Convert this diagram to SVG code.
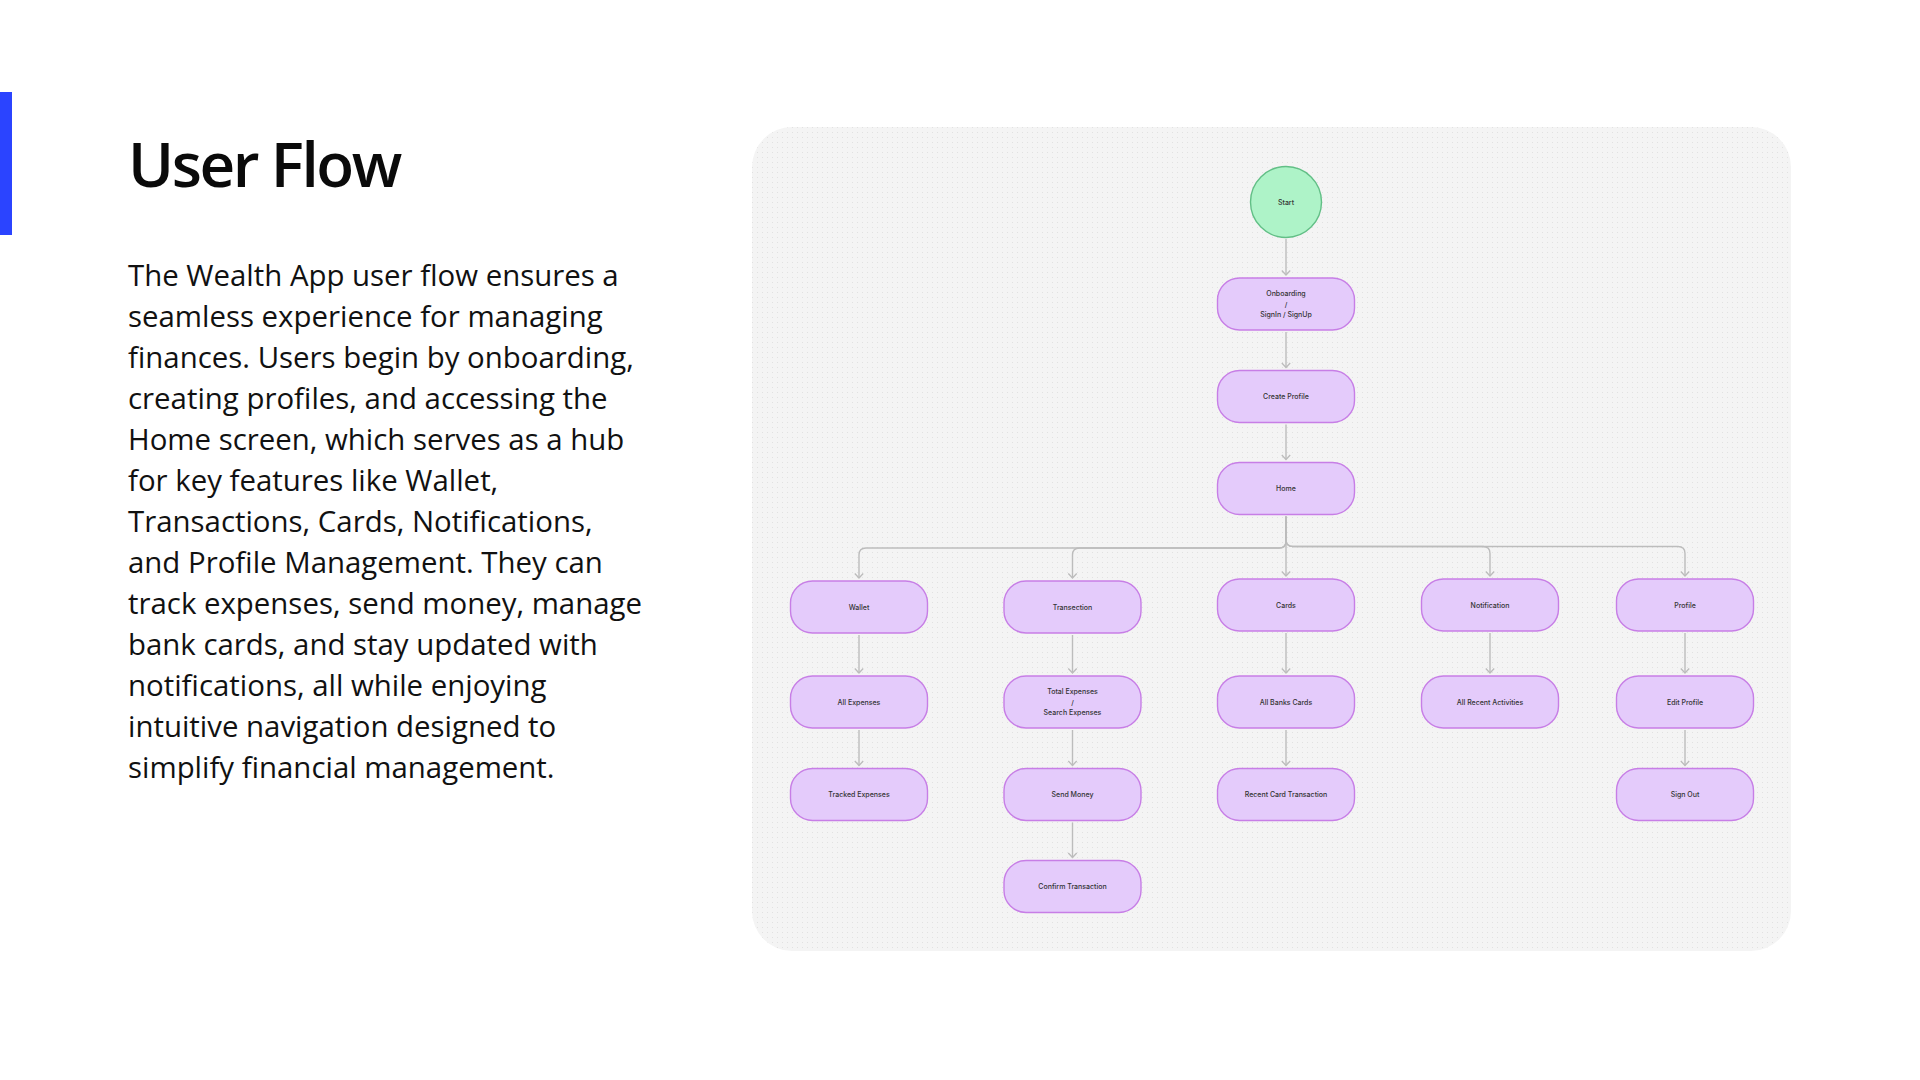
<svg xmlns="http://www.w3.org/2000/svg" width="1920" height="1080" viewBox="0 0 1920 1080">
  <defs>
    <style>
      .title { font-family: "Open Sans", "Noto Sans", sans-serif; font-weight: 600; font-size: 62px; fill: #0a0a0a; letter-spacing: -2.4px; }
      .body { font-family: "Open Sans", "Noto Sans", sans-serif; font-weight: 400; font-size: 29.4px; fill: #111111; }
      .node rect { fill: #e4cbfb; stroke: #c77ee6; stroke-width: 1.4; }
      .node circle { fill: #aef3c8; stroke: #62bf86; stroke-width: 1.4; }
      .node text { font-family: Inter, "Liberation Sans", sans-serif; font-weight: 500; font-size: 7px; fill: #333333; text-anchor: middle; }
      .edges path { fill: none; stroke: #bcbcbc; stroke-width: 1.4; marker-end: url(#arrow); }
    </style>
    <marker id="arrow" markerUnits="userSpaceOnUse" markerWidth="12" markerHeight="12" viewBox="-6 -6 8 12" refX="0" refY="0" orient="auto">
      <path d="M-4.5,-4.2 L0,0 L-4.5,4.2" fill="none" stroke="#bcbcbc" stroke-width="1.3"/>
    </marker>
    <pattern id="dots" width="5" height="5" patternUnits="userSpaceOnUse">
      <circle cx="2.5" cy="2.5" r="0.55" fill="#dedede"/>
    </pattern>
  </defs>

  <rect width="1920" height="1080" fill="#ffffff"/>

  <!-- accent bar and heading -->
  <rect x="0" y="92" width="12" height="143" fill="#2b44ff"/>
  <text class="title" x="128" y="187">User Flow</text>

  <text class="body">
    <tspan x="128" y="285.5">The Wealth App user flow ensures a</tspan>
    <tspan x="128" y="326.5">seamless experience for managing</tspan>
    <tspan x="128" y="367.5">finances. Users begin by onboarding,</tspan>
    <tspan x="128" y="408.5">creating profiles, and accessing the</tspan>
    <tspan x="128" y="449.5">Home screen, which serves as a hub</tspan>
    <tspan x="128" y="490.5">for key features like Wallet,</tspan>
    <tspan x="128" y="531.5">Transactions, Cards, Notifications,</tspan>
    <tspan x="128" y="572.5">and Profile Management. They can</tspan>
    <tspan x="128" y="613.5">track expenses, send money, manage</tspan>
    <tspan x="128" y="654.5">bank cards, and stay updated with</tspan>
    <tspan x="128" y="695.5">notifications, all while enjoying</tspan>
    <tspan x="128" y="736.5">intuitive navigation designed to</tspan>
    <tspan x="128" y="777.5">simplify financial management.</tspan>
  </text>

  <!-- canvas panel with dot grid -->
  <rect x="752" y="127" width="1039" height="824" rx="40" fill="#f4f4f4"/>
  <rect x="752" y="127" width="1039" height="824" rx="40" fill="url(#dots)"/>

  <!-- connectors -->
  <g id="connectors" class="edges">
    <path d="M1286,239 V275"/>
    <path d="M1286,332 V367.5"/>
    <path d="M1286,424.5 V459.5"/>
    <!-- Home fan-out -->
    <path d="M1286,516.5 V541 Q1286,548 1279,548 H866 Q859,548 859,555 V578"/>
    <path d="M1286,516.5 V541 Q1286,548 1279,548 H1079.5 Q1072.5,548 1072.5,555 V578"/>
    <path d="M1286,516.5 V576"/>
    <path d="M1286,516.5 V540 Q1286,546.5 1293,546.5 H1483 Q1490,546.5 1490,553.5 V576"/>
    <path d="M1286,516.5 V540 Q1286,546.5 1293,546.5 H1678 Q1685,546.5 1685,553.5 V576"/>
    <!-- Wallet column -->
    <path d="M859,635 V673"/>
    <path d="M859,730 V765.5"/>
    <!-- Transection column -->
    <path d="M1072.5,635 V673"/>
    <path d="M1072.5,730 V765.5"/>
    <path d="M1072.5,822.5 V857.5"/>
    <!-- Cards column -->
    <path d="M1286,633 V673"/>
    <path d="M1286,730 V765.5"/>
    <!-- Notification column -->
    <path d="M1490,633 V673"/>
    <!-- Profile column -->
    <path d="M1685,633 V673"/>
    <path d="M1685,730 V765.5"/>
  </g>

  <!-- nodes -->
  <g id="start" class="node">
    <circle cx="1286" cy="202" r="35.5"/>
    <text x="1286" y="204.5">Start</text>
  </g>
  <g id="onboarding" class="node">
    <rect x="1217.5" y="278" width="137" height="52" rx="22"/>
    <text x="1286" y="296.3">Onboarding</text>
    <text x="1286" y="306.8">/</text>
    <text x="1286" y="317.3">SignIn / SignUp</text>
  </g>
  <g id="create-profile" class="node">
    <rect x="1217.5" y="370.5" width="137" height="52" rx="22"/>
    <text x="1286" y="399">Create Profile</text>
  </g>
  <g id="home" class="node">
    <rect x="1217.5" y="462.5" width="137" height="52" rx="22"/>
    <text x="1286" y="491">Home</text>
  </g>

  <g id="wallet" class="node">
    <rect x="790.5" y="581" width="137" height="52" rx="22"/>
    <text x="859" y="609.5">Wallet</text>
  </g>
  <g id="transection" class="node">
    <rect x="1004" y="581" width="137" height="52" rx="22"/>
    <text x="1072.5" y="609.5">Transection</text>
  </g>
  <g id="cards" class="node">
    <rect x="1217.5" y="579" width="137" height="52" rx="22"/>
    <text x="1286" y="607.5">Cards</text>
  </g>
  <g id="notification" class="node">
    <rect x="1421.5" y="579" width="137" height="52" rx="22"/>
    <text x="1490" y="607.5">Notification</text>
  </g>
  <g id="profile" class="node">
    <rect x="1616.5" y="579" width="137" height="52" rx="22"/>
    <text x="1685" y="607.5">Profile</text>
  </g>

  <g id="all-expenses" class="node">
    <rect x="790.5" y="676" width="137" height="52" rx="22"/>
    <text x="859" y="704.5">All Expenses</text>
  </g>
  <g id="total-expenses" class="node">
    <rect x="1004" y="676" width="137" height="52" rx="22"/>
    <text x="1072.5" y="694">Total Expenses</text>
    <text x="1072.5" y="704.5">/</text>
    <text x="1072.5" y="715">Search Expenses</text>
  </g>
  <g id="all-banks-cards" class="node">
    <rect x="1217.5" y="676" width="137" height="52" rx="22"/>
    <text x="1286" y="704.5">All Banks Cards</text>
  </g>
  <g id="all-recent-activities" class="node">
    <rect x="1421.5" y="676" width="137" height="52" rx="22"/>
    <text x="1490" y="704.5">All Recent Activities</text>
  </g>
  <g id="edit-profile" class="node">
    <rect x="1616.5" y="676" width="137" height="52" rx="22"/>
    <text x="1685" y="704.5">Edit Profile</text>
  </g>

  <g id="tracked-expenses" class="node">
    <rect x="790.5" y="768.5" width="137" height="52" rx="22"/>
    <text x="859" y="797">Tracked Expenses</text>
  </g>
  <g id="send-money" class="node">
    <rect x="1004" y="768.5" width="137" height="52" rx="22"/>
    <text x="1072.5" y="797">Send Money</text>
  </g>
  <g id="recent-card-transaction" class="node">
    <rect x="1217.5" y="768.5" width="137" height="52" rx="22"/>
    <text x="1286" y="797">Recent Card Transaction</text>
  </g>
  <g id="sign-out" class="node">
    <rect x="1616.5" y="768.5" width="137" height="52" rx="22"/>
    <text x="1685" y="797">Sign Out</text>
  </g>

  <g id="confirm-transaction" class="node">
    <rect x="1004" y="860.5" width="137" height="52" rx="22"/>
    <text x="1072.5" y="889">Confirm Transaction</text>
  </g>
</svg>
